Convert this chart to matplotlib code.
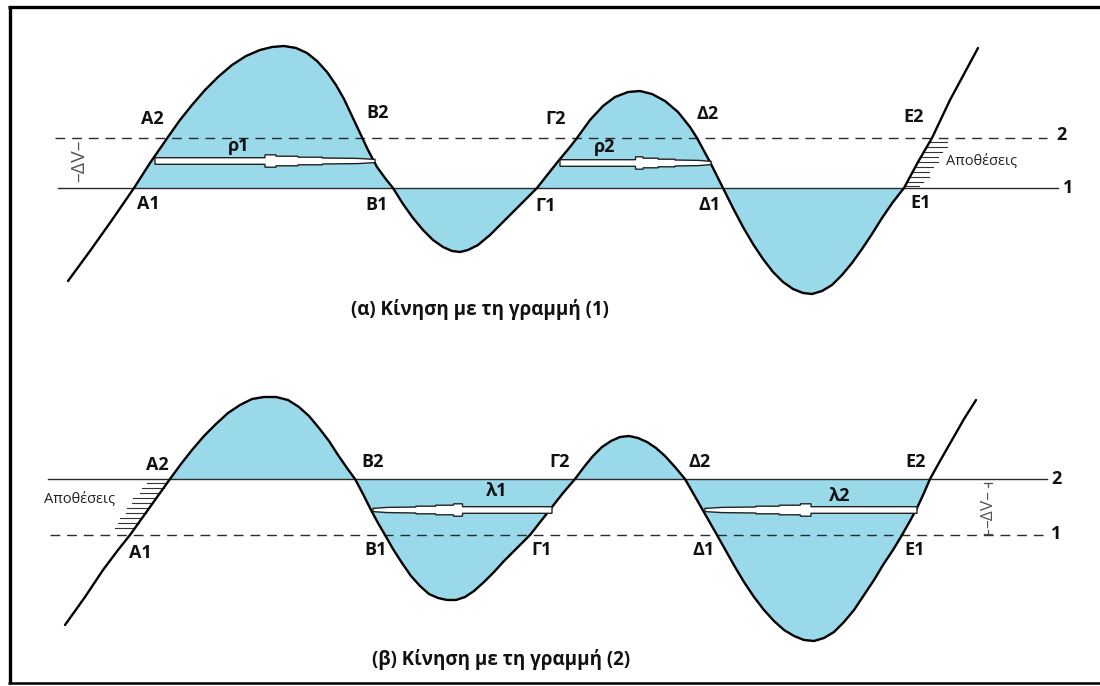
import matplotlib
matplotlib.use("Agg")
import matplotlib.pyplot as plt
import numpy as np
from matplotlib.patches import Polygon

plt.rcParams['font.family'] = ['Open Sans', 'DejaVu Sans']

# ---------------- data (pixel space) ----------------
# Panel (α): water surface profile, line 1 solid, line 2 dashed
curve_a_x = [68, 90, 112, 134, 150, 168, 180, 192, 205, 218, 232, 246, 260, 272, 284, 296,
             307, 317, 327, 336, 344, 352, 360, 368, 377, 385, 393, 403, 413, 423, 433, 443,
             452, 460, 468, 478, 490, 502, 515, 526, 537, 548, 560, 570, 577, 590, 603, 615,
             628, 640, 652, 665, 678, 690, 697, 710, 723, 733, 743, 753, 763, 773, 783, 793,
             803, 812, 822, 832, 842, 852, 862, 872, 882, 893, 904, 918, 932, 950, 978]
curve_a_y = [281, 251, 220, 188, 163, 137, 120, 105, 90, 77, 65, 56, 50, 47, 46, 48,
             53, 61, 72, 85, 99, 116, 133, 150, 167, 178, 188, 204, 218, 230, 240, 247,
             251, 252, 250, 245, 235, 223, 210, 199, 188, 174, 159, 147, 138, 120, 106, 97,
             92, 91, 94, 101, 112, 127, 138, 162, 188, 208, 227, 244, 259, 272, 282, 289,
             293, 294, 291, 285, 275, 263, 249, 234, 218, 202, 188, 162, 138, 100, 48]
line1_a_y = 188
line2_a_y = 138
fill_a_range = [134, 904]

# Panel (β)
curve_b_x = [65, 85, 103, 118, 130, 150, 170, 181, 192, 204, 216, 228, 240, 252, 264, 276,
             288, 299, 309, 319, 329, 338, 347, 355, 363, 371, 378, 385, 393, 402, 411, 420,
             429, 438, 447, 456, 465, 474, 484, 494, 504, 514, 522, 530, 541, 552, 563, 575,
             584, 593, 602, 611, 620, 629, 638, 647, 656, 665, 675, 685, 693, 701, 709, 717,
             726, 735, 744, 754, 764, 774, 784, 794, 804, 814, 824, 834, 844, 854, 864, 874,
             883, 893, 902, 910, 917, 924, 930, 940, 952, 964, 976]
curve_b_y = [625, 597, 570, 550, 535, 507, 479, 464, 450, 436, 424, 413, 405, 399, 397, 397,
             400, 407, 416, 428, 441, 455, 468, 479, 494, 510, 523, 535, 549, 563, 576, 586,
             594, 598, 600, 600, 597, 591, 582, 572, 561, 551, 543, 535, 521, 507, 493, 479,
             467, 456, 447, 441, 437, 436, 438, 442, 448, 456, 467, 479, 493, 507, 521, 535,
             551, 567, 582, 597, 610, 621, 630, 636, 640, 641, 638, 632, 622, 610, 595, 580,
             565, 550, 535, 521, 508, 493, 479, 461, 440, 419, 400]
line2_b_y = 479
line1_b_y = 535
fill_b_range = [170, 930]

# Point labels: (text, x, y)
labels_a = [("A2", 152, 119), ("B2", 378, 113), ("Γ2", 556, 119), ("Δ2", 708, 114), ("E2", 914, 117),
            ("A1", 148, 204), ("B1", 377, 205), ("Γ1", 546, 206), ("Δ1", 710, 205), ("E1", 921, 203),
            ("ρ1", 239, 146), ("ρ2", 605, 147)]
labels_b = [("A2", 157, 465), ("B2", 373, 462), ("Γ2", 560, 462), ("Δ2", 700, 462), ("E2", 916, 462),
            ("A1", 140, 553), ("B1", 376, 550), ("Γ1", 542, 550), ("Δ1", 704, 550), ("E1", 915, 550),
            ("λ1", 497, 491), ("λ2", 840, 496)]

# Velocity arrows: (tail_x, head_x, y)
arrows = [(155, 375, 161), (560, 711, 163), (552, 373, 510), (917, 705, 510)]
arrow_profile_f = [0.0, 0.50, 0.50, 0.55, 0.55, 0.65, 0.65, 0.76, 0.76, 0.92, 1.0]
arrow_profile_h = [3.3, 3.3, 6.2, 6.2, 4.8, 4.8, 3.8, 3.8, 3.0, 2.6, 1.6]

# Deposit hatching
hatch_a_y = [142, 147, 152, 157, 162, 167, 172, 177, 182, 186]
hatch_a_len = [17, 20, 18, 17, 20, 18, 16, 19, 16, 14]
hatch_b_y = [483, 488, 493, 498, 503, 508, 513, 518, 523, 528]
hatch_b_len = [20, 22, 20, 23, 21, 22, 20, 22, 21, 20]

titles = [("(α) Κίνηση με τη γραμμή (1)", 480, 310), ("(β) Κίνηση με τη γραμμή (2)", 501, 660)]

# ---------------- drawing ----------------
FILL = "#99D9EA"
LINEC = "#2b2b2b"

fig = plt.figure(figsize=(11, 6.86), dpi=100)
ax = fig.add_axes([0, 0, 1, 1])
ax.set_xlim(0, 1100)
ax.set_ylim(686, 0)
ax.axis("off")

# frame
ax.plot([8, 1100], [7, 7], color="black", lw=2.4, solid_capstyle="butt")
ax.plot([9.5, 9.5], [6, 684], color="black", lw=2.4, solid_capstyle="butt")
ax.plot([8, 1100], [683, 683], color="black", lw=1.8, solid_capstyle="butt")

xa = np.array(curve_a_x, float); ya = np.array(curve_a_y, float)
xb = np.array(curve_b_x, float); yb = np.array(curve_b_y, float)

# fills
ma = (xa >= fill_a_range[0]) & (xa <= fill_a_range[1])
ax.fill_between(xa[ma], ya[ma], line1_a_y, color=FILL, lw=0, zorder=1)
mb = (xb >= fill_b_range[0]) & (xb <= fill_b_range[1])
ax.fill_between(xb[mb], yb[mb], line2_b_y, color=FILL, lw=0, zorder=1)

# reference lines
ax.plot([58, 1058], [line1_a_y, line1_a_y], color=LINEC, lw=1.0, zorder=2)
ax.plot([55, 1047], [line2_a_y, line2_a_y], color=LINEC, lw=1.0, ls=(0, (7, 5)), zorder=2)
ax.plot([48, 1047], [line2_b_y, line2_b_y], color=LINEC, lw=1.0, zorder=2)
ax.plot([50, 1045], [line1_b_y, line1_b_y], color=LINEC, lw=1.0, ls=(0, (7, 5)), zorder=2)

bold = dict(fontsize=13, fontweight="bold", ha="center", va="center", color="#111111", zorder=6)
ax.text(1061, 135, "2", **bold)
ax.text(1068, 188, "1", **bold)
ax.text(1056, 479, "2", **bold)
ax.text(1056, 534, "1", **bold)

# curves
ax.plot(xa, ya, color="black", lw=1.7, zorder=4, solid_capstyle="round", solid_joinstyle="round")
ax.plot(xb, yb, color="black", lw=1.7, zorder=4, solid_capstyle="round", solid_joinstyle="round")

# hatching (deposits)
for hy, hl in zip(hatch_a_y, hatch_a_len):
    cx = np.interp(hy, ya[-5:][::-1], xa[-5:][::-1])
    ax.plot([cx, cx + hl], [hy, hy], color="#333333", lw=0.8, zorder=3)
for hy, hl in zip(hatch_b_y, hatch_b_len):
    cx = np.interp(hy, yb[3:7][::-1], xb[3:7][::-1])
    ax.plot([cx - hl, cx], [hy, hy], color="#333333", lw=0.8, zorder=3)

small = dict(fontsize=10.5, ha="center", va="center", color="#222222", zorder=6)
ax.text(981, 162, "Αποθέσεις", **small)
ax.text(80, 500, "Αποθέσεις", **small)

# ΔV markers
ax.text(79, 161, "–ΔV–", rotation=90, fontsize=14, ha="center", va="center", color="#555555")
ax.text(988, 509, "–ΔV–", rotation=90, fontsize=12.5, ha="center", va="center", color="#555555")
ax.plot([988, 988], [483, 487], color="#555555", lw=0.9)
ax.plot([988, 988], [530, 534], color="#555555", lw=0.9)
for yy in (483, 534):
    ax.plot([984, 992], [yy, yy], color="#555555", lw=0.9)

# arrows
pf = np.array(arrow_profile_f); ph = np.array(arrow_profile_h)
for tail, head, yy in arrows:
    xs = tail + pf * (head - tail)
    pts = list(zip(xs, yy - ph)) + list(zip(xs[::-1], (yy + ph)[::-1]))
    ax.add_patch(Polygon(pts, closed=True, facecolor="white", edgecolor="#222222", lw=1.0, zorder=5))

for t, x, y in labels_a + labels_b:
    ax.text(x, y, t, **bold)

for t, x, y in titles:
    ax.text(x, y, t, fontsize=13.5, fontweight="bold", ha="center", va="center", color="#111111")

fig.savefig("out.png", dpi=100)
